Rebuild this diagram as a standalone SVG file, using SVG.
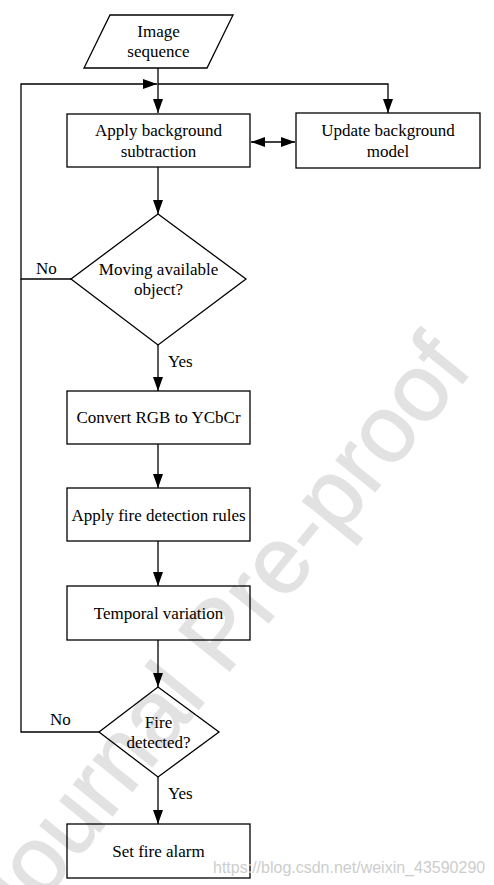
<svg xmlns="http://www.w3.org/2000/svg" width="494" height="885" viewBox="0 0 494 885">
<style>
.n{fill:none;stroke:#000;stroke-width:1.3}
.t{font-family:"Liberation Serif","Times New Roman",serif;font-size:17px;fill:#000;text-anchor:middle}
.l{font-family:"Liberation Serif","Times New Roman",serif;font-size:17px;fill:#000}
.c{fill:none;stroke:#000;stroke-width:1.3}
.wm{font-family:"Liberation Sans",Arial,sans-serif;fill:#e2e2e2;stroke:#e2e2e2;stroke-width:1.2}
.url{font-family:"Liberation Sans",Arial,sans-serif;font-size:16px;fill:#cdcdcd}
</style>
<defs>
<marker id="a" markerWidth="14" markerHeight="10" refX="14" refY="5" orient="auto" markerUnits="userSpaceOnUse">
<path d="M0,0 L14,5 L0,10 Z" fill="#000"/>
</marker>
<marker id="as" markerWidth="14" markerHeight="10" refX="0" refY="5" orient="auto" markerUnits="userSpaceOnUse">
<path d="M14,0 L0,5 L14,10 Z" fill="#000"/>
</marker>
</defs>
<rect width="494" height="885" fill="#fff"/>
<text class="wm" font-size="95" transform="translate(12,940) rotate(-51)">Journal Pre-proof</text>
<g id="connectors">
<line class="c" x1="158" y1="68" x2="158" y2="113" marker-end="url(#a)"/>
<polyline class="c" points="71,279 21,279 21,84 157,84" marker-end="url(#a)"/>
<polyline class="c" points="158,84 388,84 388,113" marker-end="url(#a)"/>
<line class="c" x1="251" y1="142" x2="295" y2="142" marker-start="url(#as)" marker-end="url(#a)"/>
<line class="c" x1="158" y1="167" x2="158" y2="214" marker-end="url(#a)"/>
<line class="c" x1="158" y1="345" x2="158" y2="391" marker-end="url(#a)"/>
<line class="c" x1="158" y1="444" x2="158" y2="488" marker-end="url(#a)"/>
<line class="c" x1="158" y1="541" x2="158" y2="586" marker-end="url(#a)"/>
<line class="c" x1="158" y1="640" x2="158" y2="687" marker-end="url(#a)"/>
<polyline class="c" points="99,732 21,732 21,279"/>
<line class="c" x1="158" y1="777" x2="158" y2="824" marker-end="url(#a)"/>
<text class="l" x="36" y="274">No</text>
<text class="l" x="50" y="725">No</text>
<text class="l" x="168" y="367">Yes</text>
<text class="l" x="168" y="799">Yes</text>
</g>
<g id="input">
<polygon class="n" points="110,15 233,15 207,68 84,68"/>
<text class="t" x="158.5" y="37">Image</text>
<text class="t" x="158.5" y="57">sequence</text>
</g>
<g id="bgsub">
<rect class="n" x="67" y="114" width="183" height="53"/>
<text class="t" x="158.5" y="136">Apply background</text>
<text class="t" x="158.5" y="157">subtraction</text>
</g>
<g id="update">
<rect class="n" x="296" y="113" width="184" height="55"/>
<text class="t" x="388" y="136">Update background</text>
<text class="t" x="388" y="157">model</text>
</g>
<g id="moving">
<polygon class="n" points="158,214 246,279 158,345 71,279"/>
<text class="t" x="158.5" y="275">Moving available</text>
<text class="t" x="158.5" y="295">object?</text>
</g>
<g id="convert">
<rect class="n" x="67" y="391" width="183" height="53"/>
<text class="t" x="158.5" y="423">Convert RGB to YCbCr</text>
</g>
<g id="rules">
<rect class="n" x="67" y="488" width="183" height="53"/>
<text class="t" x="158.5" y="521">Apply fire detection rules</text>
</g>
<g id="temporal">
<rect class="n" x="67" y="586" width="183" height="54"/>
<text class="t" x="158.5" y="619">Temporal variation</text>
</g>
<g id="fire">
<polygon class="n" points="158,687 219,732 158,777 99,732"/>
<text class="t" x="158.5" y="728">Fire</text>
<text class="t" x="158.5" y="748">detected?</text>
</g>
<g id="alarm">
<rect class="n" x="67" y="824" width="183" height="54"/>
<text class="t" x="158.5" y="857">Set fire alarm</text>
</g>
<text class="url" x="213" y="873">https://blog.csdn.net/weixin_43590290</text>
</svg>
